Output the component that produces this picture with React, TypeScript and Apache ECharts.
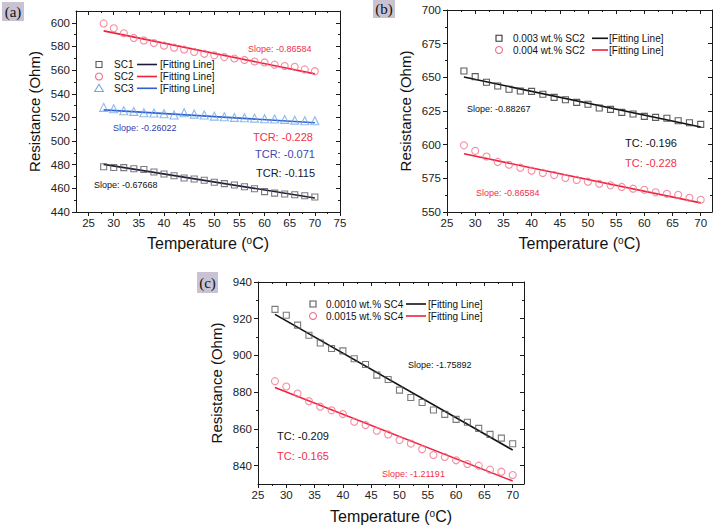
import React, { useEffect, useRef } from "react";
import * as echarts from "echarts";

// ---------- data ----------
const temps = [28, 30, 32, 34, 36, 38, 40, 42, 44, 46, 48, 50, 52, 54, 56, 58, 60, 62, 64, 66, 68, 70];

const sc1 = [478.3, 477.7, 477.5, 476.6, 476.0, 473.8, 472.1, 470.7, 468.7, 467.9, 466.8, 465.1, 464.0, 462.8, 461.4, 459.7, 457.2, 456.0, 455.2, 454.6, 453.8, 452.7];
const sc2 = [599.5, 595.4, 591.2, 587.2, 585.1, 582.9, 580.7, 579.0, 577.4, 575.3, 573.8, 572.5, 571.0, 569.8, 568.6, 567.3, 566.5, 564.6, 563.5, 562.8, 560.6, 559.1];
const sc3 = [528.5, 527.3, 525.6, 525.1, 523.9, 523.7, 523.1, 522.0, 523.9, 522.8, 522.0, 521.1, 520.6, 520.0, 519.7, 519.4, 518.9, 518.6, 518.3, 517.7, 517.2, 517.2];
const sc2w003 = [654.7, 650.5, 646.3, 643.6, 641.1, 639.9, 639.6, 637.4, 635.1, 633.4, 631.4, 630.0, 627.2, 626.2, 624.0, 622.8, 621.0, 620.3, 619.6, 617.8, 616.3, 615.1];
const sc4w0010 = [925.1, 921.9, 916.5, 911.0, 906.8, 903.8, 902.5, 898.2, 895.1, 889.3, 886.9, 881.1, 877.1, 874.4, 870.3, 867.9, 865.2, 863.6, 860.3, 857.0, 855.0, 851.9];
const sc4w0015 = [886.0, 883.1, 879.3, 875.1, 872.1, 870.1, 868.1, 863.9, 862.1, 859.0, 857.0, 853.9, 852.0, 848.9, 845.8, 844.7, 842.9, 840.9, 840.0, 837.8, 836.7, 834.9];

// fitted lines: [x, y] endpoints
const fitSC1 = [[28, 480.3], [70, 451.9]];
const fitSC2 = [[28, 593.2], [70, 556.8]];
const fitSC3 = [[28, 526.4], [70, 515.5]];
const fitW003 = [[28, 650.2], [70, 613.1]];
const fitW0010 = [[28, 922.4], [70, 848.5]];
const fitW0015 = [[28, 882.6], [70, 831.6]];

// tick labels
const xTicksA = [25, 30, 35, 40, 45, 50, 55, 60, 65, 70, 75];
const xMinorA = [27.5, 32.5, 37.5, 42.5, 47.5, 52.5, 57.5, 62.5, 67.5, 72.5];
const xTicksBC = [25, 30, 35, 40, 45, 50, 55, 60, 65, 70];
const xMinorBC = [27.5, 32.5, 37.5, 42.5, 47.5, 52.5, 57.5, 62.5, 67.5];
const yTicksA = [440, 460, 480, 500, 520, 540, 560, 580, 600];
const yMinorA = [450, 470, 490, 510, 530, 550, 570, 590];
const yTicksB = [550, 575, 600, 625, 650, 675, 700];
const yMinorB = [562.5, 587.5, 612.5, 637.5, 662.5, 687.5];
const yTicksC = [840, 860, 880, 900, 920, 940];
const yMinorC = [850, 870, 890, 910, 930];

const FONT = "'Liberation Sans', Arial, sans-serif";
const SERIF = "'Liberation Serif', 'DejaVu Serif', serif";
const AX = "#1a1a1a";
const SQ = "#5a5a5a";
const CI = "#f3708c";
const TRI = "#6fa8e6";
const RED = "#f0203c";
const BLUE = "#2f5fd0";
const NAVY = "#1c1c3a";

const zip = (ys: number[]) => temps.map((t, i) => [t, ys[i]]);

const panels = [
  { grid: { left: 76, top: 11, width: 264, height: 201 }, xMin: 22.5, xMax: 75, yMin: 440, yMax: 610, xT: xTicksA, xM: xMinorA, yT: yTicksA, yM: yMinorA },
  { grid: { left: 447, top: 10, width: 265, height: 202 }, xMin: 25, xMax: 72, yMin: 550, yMax: 700, xT: xTicksBC, xM: xMinorBC, yT: yTicksB, yM: yMinorB },
  { grid: { left: 258, top: 282, width: 266, height: 202 }, xMin: 25, xMax: 72, yMin: 830, yMax: 940, xT: xTicksBC, xM: xMinorBC, yT: yTicksC, yM: yMinorC },
];

function buildAxes() {
  const xAxis: any[] = [];
  const yAxis: any[] = [];
  panels.forEach((p, g) => {
    const common = { gridIndex: g, type: "value", splitLine: { show: false } };
    xAxis.push({
      ...common, min: p.xMin, max: p.xMax, position: "bottom",
      axisLine: { show: true, onZero: false, lineStyle: { color: AX, width: 1 } },
      axisTick: { show: true, inside: false, length: 4, customValues: p.xT, lineStyle: { color: AX } },
      axisLabel: { customValues: p.xT, fontSize: 11.5, fontFamily: FONT, color: "#222", margin: 5 },
      name: "{n|Temperature (}{s|o}{n|C)}", nameLocation: "middle", nameGap: g === 2 ? 24 : 23,
      nameTextStyle: { rich: { n: { fontSize: 16, fontFamily: FONT, color: "#111" }, s: { fontSize: 10, fontFamily: FONT, color: "#111", verticalAlign: "top", padding: [0, 0, 7, 0] } } },
    });
    xAxis.push({
      ...common, min: p.xMin, max: p.xMax, position: "top",
      axisLine: { show: true, onZero: false, lineStyle: { color: AX, width: 1 } },
      axisTick: { show: true, inside: true, length: 4, customValues: p.xT, lineStyle: { color: AX } },
      axisLabel: { show: false },
    });
    xAxis.push({
      ...common, min: p.xMin, max: p.xMax, position: "bottom",
      axisLine: { show: false, onZero: false },
      axisTick: { show: true, inside: false, length: 2, customValues: p.xM, lineStyle: { color: AX } },
      axisLabel: { show: false },
    });
    xAxis.push({
      ...common, min: p.xMin, max: p.xMax, position: "top",
      axisLine: { show: false, onZero: false },
      axisTick: { show: true, inside: true, length: 2, customValues: p.xM, lineStyle: { color: AX } },
      axisLabel: { show: false },
    });
    yAxis.push({
      ...common, min: p.yMin, max: p.yMax, position: "left",
      axisLine: { show: true, onZero: false, lineStyle: { color: AX, width: 1 } },
      axisTick: { show: true, inside: false, length: 4, customValues: p.yT, lineStyle: { color: AX } },
      axisLabel: { customValues: p.yT, fontSize: 11.5, fontFamily: FONT, color: "#222", margin: 6 },
      name: "Resistance (Ohm)", nameLocation: "middle", nameGap: 34, nameRotate: 90,
      nameTextStyle: { fontSize: 15, fontFamily: FONT, color: "#111" },
    });
    yAxis.push({
      ...common, min: p.yMin, max: p.yMax, position: "right",
      axisLine: { show: true, onZero: false, lineStyle: { color: AX, width: 1 } },
      axisTick: { show: true, inside: true, length: 4, customValues: p.yT, lineStyle: { color: AX } },
      axisLabel: { show: false },
    });
    yAxis.push({
      ...common, min: p.yMin, max: p.yMax, position: "left",
      axisLine: { show: false, onZero: false },
      axisTick: { show: true, inside: false, length: 2, customValues: p.yM, lineStyle: { color: AX } },
      axisLabel: { show: false },
    });
    yAxis.push({
      ...common, min: p.yMin, max: p.yMax, position: "right",
      axisLine: { show: false, onZero: false },
      axisTick: { show: true, inside: true, length: 2, customValues: p.yM, lineStyle: { color: AX } },
      axisLabel: { show: false },
    });
  });
  return { xAxis, yAxis };
}

function scatter(g: number, name: string, ys: number[], symbol: string, size: number, color: string) {
  return {
    type: "scatter", name, xAxisIndex: g * 4, yAxisIndex: g * 4, data: zip(ys),
    symbol, symbolSize: size, z: 5,
    itemStyle: { color: "rgba(0,0,0,0)", borderColor: color, borderWidth: 1.1 },
  };
}
function fit(g: number, name: string, pts: number[][], color: string) {
  return {
    type: "line", name, xAxisIndex: g * 4, yAxisIndex: g * 4, data: pts,
    showSymbol: false, symbol: "none", z: 3,
    lineStyle: { color, width: 1.6 },
  };
}

function txt(x: number, y: number, text: string, size: number, fill: string, family = FONT) {
  return {
    type: "text", x, y, silent: true,
    style: { text, fill, fontSize: size, fontFamily: family, align: "left", verticalAlign: "middle" },
  };
}
function marker(kind: string, cx: number, cy: number, color: string): any {
  const st = { fill: "none", stroke: color, lineWidth: 1.1 };
  if (kind === "rect") return { type: "rect", shape: { x: cx - 3, y: cy - 3, width: 6, height: 6 }, style: st, silent: true };
  if (kind === "circle") return { type: "circle", shape: { cx, cy, r: 3.5 }, style: st, silent: true };
  return { type: "polygon", shape: { points: [[cx, cy - 4], [cx + 4.3, cy + 3.2], [cx - 4.3, cy + 3.2]] }, style: st, silent: true };
}
function legendRow(mx: number, y: number, kind: string, mColor: string, label: string, lx: number, l1: number, l2: number, fx: number, lColor: string) {
  return [
    marker(kind, mx, y, mColor),
    txt(lx, y, label, 10, "#111"),
    { type: "line", shape: { x1: l1, y1: y, x2: l2, y2: y }, style: { stroke: lColor, lineWidth: 1.6 }, silent: true },
    txt(fx, y, "[Fitting Line]", 10, "#111"),
  ];
}
function panelTag(x: number, y: number, w: number, h: number, label: string) {
  return [
    { type: "rect", shape: { x, y, width: w, height: h }, style: { fill: "#c9c2d3" }, silent: true },
    { type: "text", x: x + w / 2, y: y + h / 2, silent: true, style: { text: label, fill: "#111", font: "15px " + SERIF, fontSize: 15, fontFamily: SERIF, align: "center", verticalAlign: "middle" } },
  ];
}

export default function App() {
  const ref = useRef<HTMLDivElement>(null);
  useEffect(() => {
    if (!ref.current) return;
    const chart = echarts.init(ref.current, undefined, { renderer: "svg" });
    const { xAxis, yAxis } = buildAxes();
    const graphic: any[] = [
      ...panelTag(2, 2, 22, 19, "(a)"),
      ...panelTag(373, 0, 22, 18, "(b)"),
      ...panelTag(197, 272, 21, 21, "(c)"),
      ...legendRow(99, 64.5, "rect", SQ, "SC1", 114, 137, 157, 160, NAVY),
      ...legendRow(99, 76.5, "circle", CI, "SC2", 114, 137, 157, 160, RED),
      ...legendRow(99, 88.3, "tri", TRI, "SC3", 114, 137, 157, 160, BLUE),
      ...legendRow(499, 38.3, "rect", "#333", "0.003 wt.% SC2", 513, 592, 608, 609, "#111"),
      ...legendRow(499, 50, "circle", CI, "0.004 wt.% SC2", 513, 592, 608, 609, RED),
      ...legendRow(313, 304, "rect", SQ, "0.0010 wt.% SC4", 326, 406, 426, 428, "#111"),
      ...legendRow(313, 316, "circle", CI, "0.0015 wt.% SC4", 326, 406, 426, 428, RED),
      txt(248, 49, "Slope: -0.86584", 9, "#f0304c"),
      txt(113, 128, "Slope: -0.26022", 9, "#3040b0"),
      txt(253, 137, "TCR: -0.228", 11, "#f0304c"),
      txt(255, 154, "TCR: -0.071", 11, "#3a48b0"),
      txt(256, 173, "TCR: -0.115", 11, "#111830"),
      txt(94, 185, "Slope: -0.67668", 9, "#111"),
      txt(467, 109, "Slope: -0.88267", 9, "#111"),
      txt(625, 143, "TC: -0.196", 11, "#111"),
      txt(625, 163, "TC: -0.228", 11, "#f0304c"),
      txt(476, 193, "Slope: -0.86584", 9, "#f0304c"),
      txt(408, 365, "Slope: -1.75892", 9, "#111"),
      txt(277, 436, "TC: -0.209", 11, "#111"),
      txt(277, 456, "TC: -0.165", 11, "#f0304c"),
      txt(382, 474, "Slope: -1.21191", 9, "#f0304c"),
    ];
    chart.setOption({
      animation: false,
      backgroundColor: "#ffffff",
      grid: panels.map((p) => ({ ...p.grid, containLabel: false })),
      xAxis,
      yAxis,
      series: [
        fit(0, "SC1 fit", fitSC1, NAVY),
        fit(0, "SC2 fit", fitSC2, RED),
        fit(0, "SC3 fit", fitSC3, BLUE),
        scatter(0, "SC1", sc1, "rect", 6, SQ),
        scatter(0, "SC2", sc2, "circle", 7, CI),
        scatter(0, "SC3", sc3, "triangle", 8, TRI),
        fit(1, "0.003 fit", fitW003, "#111"),
        fit(1, "0.004 fit", fitSC2, RED),
        scatter(1, "0.003 wt.% SC2", sc2w003, "rect", 6, "#333"),
        scatter(1, "0.004 wt.% SC2", sc2, "circle", 7, CI),
        fit(2, "0.0010 fit", fitW0010, "#111"),
        fit(2, "0.0015 fit", fitW0015, RED),
        scatter(2, "0.0010 wt.% SC4", sc4w0010, "rect", 6, SQ),
        scatter(2, "0.0015 wt.% SC4", sc4w0015, "circle", 7, CI),
      ],
      graphic,
    });
    return () => chart.dispose();
  }, []);
  return <div ref={ref} style={{ position: "absolute", left: 0, top: 0, width: 722, height: 528 }} />;
}
